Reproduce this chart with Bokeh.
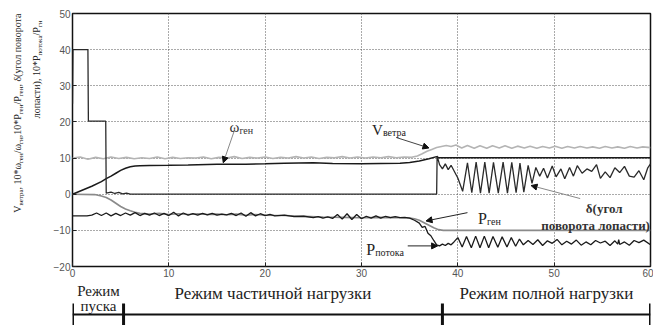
import glob
import math
from bokeh.plotting import figure
from bokeh.layouts import column, row
from bokeh.models import Range1d, SingleIntervalTicker, Label, Arrow, NormalHead
from bokeh.core.properties import value
from bokeh.embed import file_html
from bokeh.resources import INLINE

# ---------------- data ----------------
# pitch angle delta (black)
delta_t = [0, 0.05, 1.6, 1.65, 3.45, 3.5, 4.0, 4.4, 4.8, 5.2, 5.6, 6.0,
           37.8, 37.85, 38.1, 38.4, 38.7, 39.0, 39.3, 39.6,
           40.0, 40.5, 41.0, 41.45, 41.9, 42.35, 42.8, 43.25, 43.7, 44.2, 44.7, 45.15, 45.6, 46.05, 46.45, 46.85,
           47.3, 47.7, 48.1, 48.5, 48.9, 49.3, 49.8, 50.2, 50.7, 51.1, 51.6, 52.0, 52.4, 52.9, 53.4, 53.9, 54.4,
           54.8, 55.3, 55.8, 56.3, 56.8, 57.3, 57.8, 58.3, 58.8, 59.3, 59.7, 60.0]
delta_v = [25, 40, 40, 20.2, 20.2, 0.3, 0.6, 0.2, 0.5, 0.1, 0.3, 0.0,
           0.0, 10.6, 8.2, 7.0, 8.4, 6.8, 8.0, 6.5,
           4.5, 0.8, 8.7, 0.4, 8.9, 0.3, 8.9, 0.3, 8.8, 0.3, 8.9, 0.3, 8.8, 0.4, 8.6, 0.6,
           8.0, 3.0, 7.4, 5.0, 7.2, 4.5, 7.8, 4.8, 7.0, 4.3, 7.4, 5.0, 7.9, 5.8, 7.0, 6.3, 8.2,
           4.4, 6.2, 4.6, 7.3, 6.0, 7.7, 5.0, 4.7, 6.5, 4.0, 7.2, 8.4]

# generator speed 10*w/w_n (black)
omega_t = [0, 1, 2, 3, 3.5, 4, 4.5, 5, 5.5, 6, 6.5, 7, 8, 10, 12, 15, 18, 20, 22, 25, 27, 30, 32, 34, 35, 36, 37, 37.8, 38, 60]
omega_v = [0, 1.1, 2.2, 3.5, 4.3, 5.0, 5.8, 6.6, 7.2, 7.6, 7.8, 7.9, 7.95, 8.0, 8.1, 8.3, 8.3, 8.4, 8.6, 8.7, 8.5, 8.4, 8.5, 8.6, 8.8, 9.2, 9.8, 10.4, 10.1, 10.1]

# wind speed (light grey)
wind_t = [0, 0.8, 1.6, 2.4, 3.2, 4.0, 4.8, 5.6, 6.4, 7.2, 8.0, 8.8, 9.6, 10.4, 11.2, 12.0, 12.8, 13.6, 14.4,
          15.2, 16.0, 16.8, 17.6, 18.4, 19.2, 20.0, 20.8, 21.6, 22.4, 23.2, 24.0, 24.8, 25.6, 26.4, 27.2, 28.0,
          28.8, 29.6, 30.4, 31.2, 32.0, 32.8, 33.6, 34.4, 35.2,
          35.8, 36.3, 36.8, 37.3, 37.8, 38.3, 38.8, 39.3, 39.8,
          40.4, 41.0, 41.7, 42.3, 43.0, 43.6, 44.3, 44.9, 45.6, 46.2, 46.9, 47.5, 48.2, 48.8, 49.5, 50.1, 50.8,
          51.4, 52.1, 52.7, 53.4, 54.0, 54.7, 55.3, 56.0, 56.6, 57.3, 57.9, 58.6, 59.2, 60.0]
wind_v = [10.0, 10.3, 9.7, 10.2, 9.8, 10.3, 9.9, 10.2, 9.8, 10.1, 9.9, 10.3, 9.8, 10.2, 9.9, 10.1, 10.0, 10.3,
          9.8, 10.2, 10.0, 10.4, 9.9, 10.2, 10.0, 10.3, 9.9, 10.2, 10.0, 10.4, 10.0, 10.3, 9.9, 10.2, 10.1, 10.4,
          10.0, 10.3, 10.0, 10.3, 10.1, 10.4, 10.1, 10.3, 10.2,
          10.6, 11.2, 11.9, 12.4, 12.9, 13.2, 13.5, 13.2, 13.6,
          12.8, 13.5, 12.7, 13.4, 12.7, 13.4, 12.8, 13.4, 12.7, 13.3, 12.8, 13.3, 12.7, 13.2, 12.8, 13.3, 12.7,
          13.2, 12.8, 13.2, 12.8, 13.1, 12.7, 13.2, 12.8, 13.1, 12.7, 13.2, 12.8, 13.1, 12.9]

# generator power (grey)
pgen_t = [0, 2.3, 3.0, 3.5, 4.0, 4.5, 5.0, 5.5, 6.0, 6.5, 7.0,
          8, 9, 10, 11, 12, 13, 14, 15, 16, 17, 18, 19, 20,
          22, 24, 26, 28, 30, 32, 34,
          35, 35.5, 36, 36.5, 37, 37.5, 38, 38.5, 60]
pgen_v = [0, -0.1, -0.5, -0.9, -1.6, -2.5, -3.4, -4.1, -4.6, -5.0, -5.3,
          -5.5, -5.3, -5.6, -5.4, -5.6, -5.4, -5.6, -5.5, -5.7, -5.5, -5.8, -5.6, -5.8,
          -5.9, -6.1, -6.3, -6.4, -6.5, -6.4, -6.5,
          -6.6, -6.8, -7.2, -7.9, -8.6, -9.3, -9.8, -10.0, -10.0]

# flow power (black)
pflow_t = [0, 1.5, 2, 2.5, 3, 3.5, 4, 4.5, 5, 5.5, 6, 6.5, 7, 7.5, 8, 8.5, 9, 9.5, 10, 10.5, 11, 11.5, 12,
           12.5, 13, 13.5, 14, 14.5, 15, 15.5, 16, 16.5, 17, 17.5, 18, 18.5, 19, 19.5, 20, 20.5, 21, 22, 23,
           24, 25, 25.5, 26, 26.5, 27, 27.5, 28, 28.5, 29, 29.5, 30, 30.5, 31, 31.5, 32, 32.5, 33, 33.5, 34,
           34.5, 35, 35.5, 36, 36.3, 36.6, 36.9, 37.2, 37.5, 37.8, 38.1, 38.4, 38.7, 39, 39.3, 39.6,
           40.0, 40.45, 40.9, 41.4, 41.85, 42.3, 42.75, 43.2, 43.65, 44.15, 44.6, 45.1, 45.55, 46.0, 46.4,
           46.8, 47.3, 47.8, 48.3, 48.8, 49.3, 49.8, 50.3, 50.8, 51.3, 51.8, 52.3, 52.8, 53.3, 53.8, 54.3,
           54.8, 55.3, 55.8, 56.3, 56.6, 56.7, 56.8, 57.3, 57.8, 58.3, 58.8, 59.3, 60]
pflow_v = [-6.0, -6.0, -5.8, -5.2, -5.9, -5.2, -6.0, -5.3, -5.9, -5.2, -5.8, -5.1, -5.9, -5.3, -5.8, -5.2,
           -5.9, -5.3, -5.9, -5.0, -6.0, -5.2, -5.8, -5.4, -5.8, -5.3, -5.7, -5.3, -5.8, -5.5, -5.7, -5.3,
           -5.9, -5.2, -6.1, -5.1, -6.0, -5.4, -5.9, -5.6, -6.0, -5.8, -6.2, -6.1, -6.5, -6.2, -6.6, -6.3,
           -6.7, -5.6, -6.9, -5.4, -7.0, -5.6, -6.8, -6.1, -6.6, -6.0, -6.6, -6.1, -6.5, -6.2, -6.5, -6.4,
           -6.6, -7.2, -8.0, -9.2, -8.9, -10.8, -11.5, -12.8, -14.0, -14.3, -13.8, -14.2, -13.6, -14.0, -13.2,
           -12.0, -14.6, -11.7, -14.8, -11.6, -14.8, -11.6, -14.8, -11.7, -14.7, -11.8, -14.6, -12.0, -14.4,
           -12.4, -14.0, -12.8, -13.9, -12.6, -14.2, -12.9, -13.6, -12.5, -14.0, -13.0, -13.8, -12.7, -14.1,
           -13.2, -14.0, -12.8, -13.5, -13.0, -14.2, -12.9, -13.8, -12.6, -13.9, -13.2, -14.1, -12.8, -13.4,
           -12.7, -14.0]

# operating regimes
regime_bounds = [0, 5.3, 38.4, 60]
regime_labels = ["Режим", "пуска", "Режим частичной нагрузки", "Режим полной нагрузки"]
regime_label_x = [2.7, 2.7, 20.8, 49.2]

# annotation arrows (tail -> head)
arrow_x0 = [16.8, 33.6, 41.0, 52.7, 34.8]
arrow_y0 = [17.6, 15.7, -5.1, -1.2, -14.3]
arrow_x1 = [15.65, 37.0, 36.7, 47.6, 37.9]
arrow_y1 = [8.7, 12.8, -7.4, 2.4, -14.3]
arrow_col = ["#888888", "#444444", "#222222", "#888888", "#222222"]

# y-axis title, pieces (text, is_subscript)
ytitle_line1 = [("V", 0), ("ветра", 1), (", 10*ω", 0), ("ген", 1), ("/ω", 0), ("гн", 1),
                (",10*P", 0), ("ген", 1), ("/P", 0), ("ген", 1), (", δ(угол поворота", 0)]
ytitle_line2 = [("лопасти), 10*P", 0), ("потока", 1), ("/P", 0), ("гн", 1)]

# ---------------- text measuring ----------------
SERIF = "Liberation Serif"
_cache = {}
try:
    from PIL import ImageFont
except Exception:
    ImageFont = None


def _font_path(fname):
    hits = glob.glob("/usr/share/fonts/**/" + fname, recursive=True)
    return hits[0] if hits else None


def text_w(s, size, bold=False):
    key = (size, bold)
    if ImageFont is not None:
        if key not in _cache:
            path = _font_path("LiberationSerif-Bold.ttf" if bold else "LiberationSerif-Regular.ttf")
            try:
                _cache[key] = ImageFont.truetype(path, size) if path else None
            except Exception:
                _cache[key] = None
        f = _cache[key]
        if f is not None:
            return f.getlength(s)
    return 0.5 * size * len(s)


def rich(p, x, y, pieces, size=15, sub=10, drop=4, color="#111111", bold=False):
    off = 0.0
    for txt, is_sub in pieces:
        fs = sub if is_sub else size
        p.add_layout(Label(x=x, y=y, x_offset=off, y_offset=-drop if is_sub else 0, text=txt,
                           text_font=SERIF, text_font_size=f"{fs}px", text_color=color,
                           text_baseline="alphabetic", text_align="left",
                           text_font_style="bold" if bold else "normal"))
        off += text_w(txt, fs, bold)


# ---------------- layout geometry (pixels) ----------------
LEFT_W = 50
MAIN_W = 653 - LEFT_W
MAIN_H = 280
STRIP_H = 45
FRAME_L = 71 - LEFT_W
FRAME_R = 3

# ---------------- left title panel ----------------
pl = figure(width=LEFT_W, height=MAIN_H, x_range=Range1d(0, LEFT_W), y_range=Range1d(0, MAIN_H),
            min_border=0, x_axis_location=None, y_axis_location=None,
            toolbar_location=None, output_backend="svg")
pl.grid.visible = False
pl.outline_line_color = None
pl.border_fill_color = "white"


def vtitle(fig, base_x, top_y, pieces, size, sub, drop, color="#222222"):
    widths = [text_w(t, sub if s else size) for t, s in pieces]
    pos = top_y - sum(widths)
    for (txt, is_sub), w in zip(pieces, widths):
        fs = sub if is_sub else size
        fig.text(x=[base_x + (drop if is_sub else 0)], y=[pos], text=[txt], angle=math.pi / 2,
                 text_font=value(SERIF), text_font_size=f"{fs}px", text_color=color,
                 text_align="left", text_baseline="alphabetic")
        pos += w


vtitle(pl, 17, MAIN_H - 13, ytitle_line1, 10, 7, 3)
vtitle(pl, 36, MAIN_H - 20, ytitle_line2, 10, 7, 3)

# ---------------- main figure ----------------
p = figure(width=MAIN_W, height=MAIN_H, x_range=Range1d(0, 60), y_range=Range1d(-20, 50),
           min_border_left=FRAME_L, min_border_right=FRAME_R, min_border_top=13, min_border_bottom=14,
           toolbar_location=None, output_backend="svg")
p.background_fill_color = "white"
p.border_fill_color = "white"
p.outline_line_color = "#111111"
p.outline_line_width = 1.5

p.xaxis.ticker = SingleIntervalTicker(interval=10, num_minor_ticks=0)
p.yaxis.ticker = SingleIntervalTicker(interval=10, num_minor_ticks=0)
for ax in (p.xaxis, p.yaxis):
    ax.axis_line_color = None
    ax.major_tick_in = 4
    ax.major_tick_out = 0
    ax.major_tick_line_color = "#222222"
    ax.minor_tick_line_color = None
    ax.major_label_text_font = "Liberation Sans"
    ax.major_label_text_font_size = "10px"
    ax.major_label_text_color = "#555555"
    ax.major_label_standoff = 2

p.grid.grid_line_color = "#555555"
p.grid.grid_line_dash = "1 2"
p.grid.grid_line_width = 1

p.line(wind_t, wind_v, line_color="#b4b4b4", line_width=1.6)
p.line(pgen_t, pgen_v, line_color="#8a8a8a", line_width=1.6)
p.line(omega_t, omega_v, line_color="#1a1a1a", line_width=1.5)
p.line(pflow_t, pflow_v, line_color="#1a1a1a", line_width=1.3)
p.line(delta_t, delta_v, line_color="#2a2a2a", line_width=1.3)

for x0, y0, x1, y1, c in zip(arrow_x0, arrow_y0, arrow_x1, arrow_y1, arrow_col):
    p.add_layout(Arrow(x_start=x0, y_start=y0, x_end=x1, y_end=y1, line_color=c, line_width=1,
                       end=NormalHead(size=6, fill_color="#111111", line_color="#111111")))

# curve labels
rich(p, 16.3, 18.5, [("ω", 0), ("ген", 1)], size=15, sub=10, drop=3, color="#333333")
rich(p, 31.1, 17.9, [("V", 0), ("ветра", 1)], size=15, sub=10, drop=3, color="#222222")
rich(p, 42.1, -6.8, [("P", 0), ("ген", 1)], size=16, sub=10, drop=3, color="#222222")
rich(p, 30.5, -15.4, [("P", 0), ("потока", 1)], size=16, sub=10, drop=3, color="#222222")
p.add_layout(Label(x=55.2, y=-3.9, text="δ(угол", text_font=SERIF, text_font_size="13px",
                   text_font_style="bold", text_color="#333333", text_align="center",
                   text_baseline="alphabetic"))
p.add_layout(Label(x=54.3, y=-8.6, text="поворота лопасти)", text_font=SERIF, text_font_size="13px",
                   text_font_style="bold", text_color="#333333", text_align="center",
                   text_baseline="alphabetic"))

# ---------------- regime strip ----------------
p2 = figure(width=MAIN_W, height=STRIP_H, x_range=p.x_range, y_range=Range1d(0, STRIP_H),
            min_border_left=FRAME_L, min_border_right=FRAME_R, min_border_top=0, min_border_bottom=0,
            x_axis_location=None, y_axis_location=None, toolbar_location=None, output_backend="svg")
p2.grid.visible = False
p2.outline_line_color = None
p2.background_fill_color = "white"
p2.border_fill_color = "white"

p2.segment(x0=[regime_bounds[0]], y0=[11], x1=[regime_bounds[-1]], y1=[11], line_color="#111111", line_width=2)
p2.segment(x0=regime_bounds, y0=[0] * len(regime_bounds), x1=regime_bounds, y1=[22] * len(regime_bounds),
           line_color="#111111", line_width=3)
label_y = [35, 20, 32, 32]
label_size = ["15px", "15px", "17px", "17px"]
p2.text(x=regime_label_x, y=label_y, text=regime_labels, text_font=value(SERIF), text_font_size=label_size,
        text_color="#222222", text_align="center", text_baseline="middle")

layout = row(pl, column(p, p2, spacing=0), spacing=0)
open("out.html", "w").write(file_html(layout, INLINE))
